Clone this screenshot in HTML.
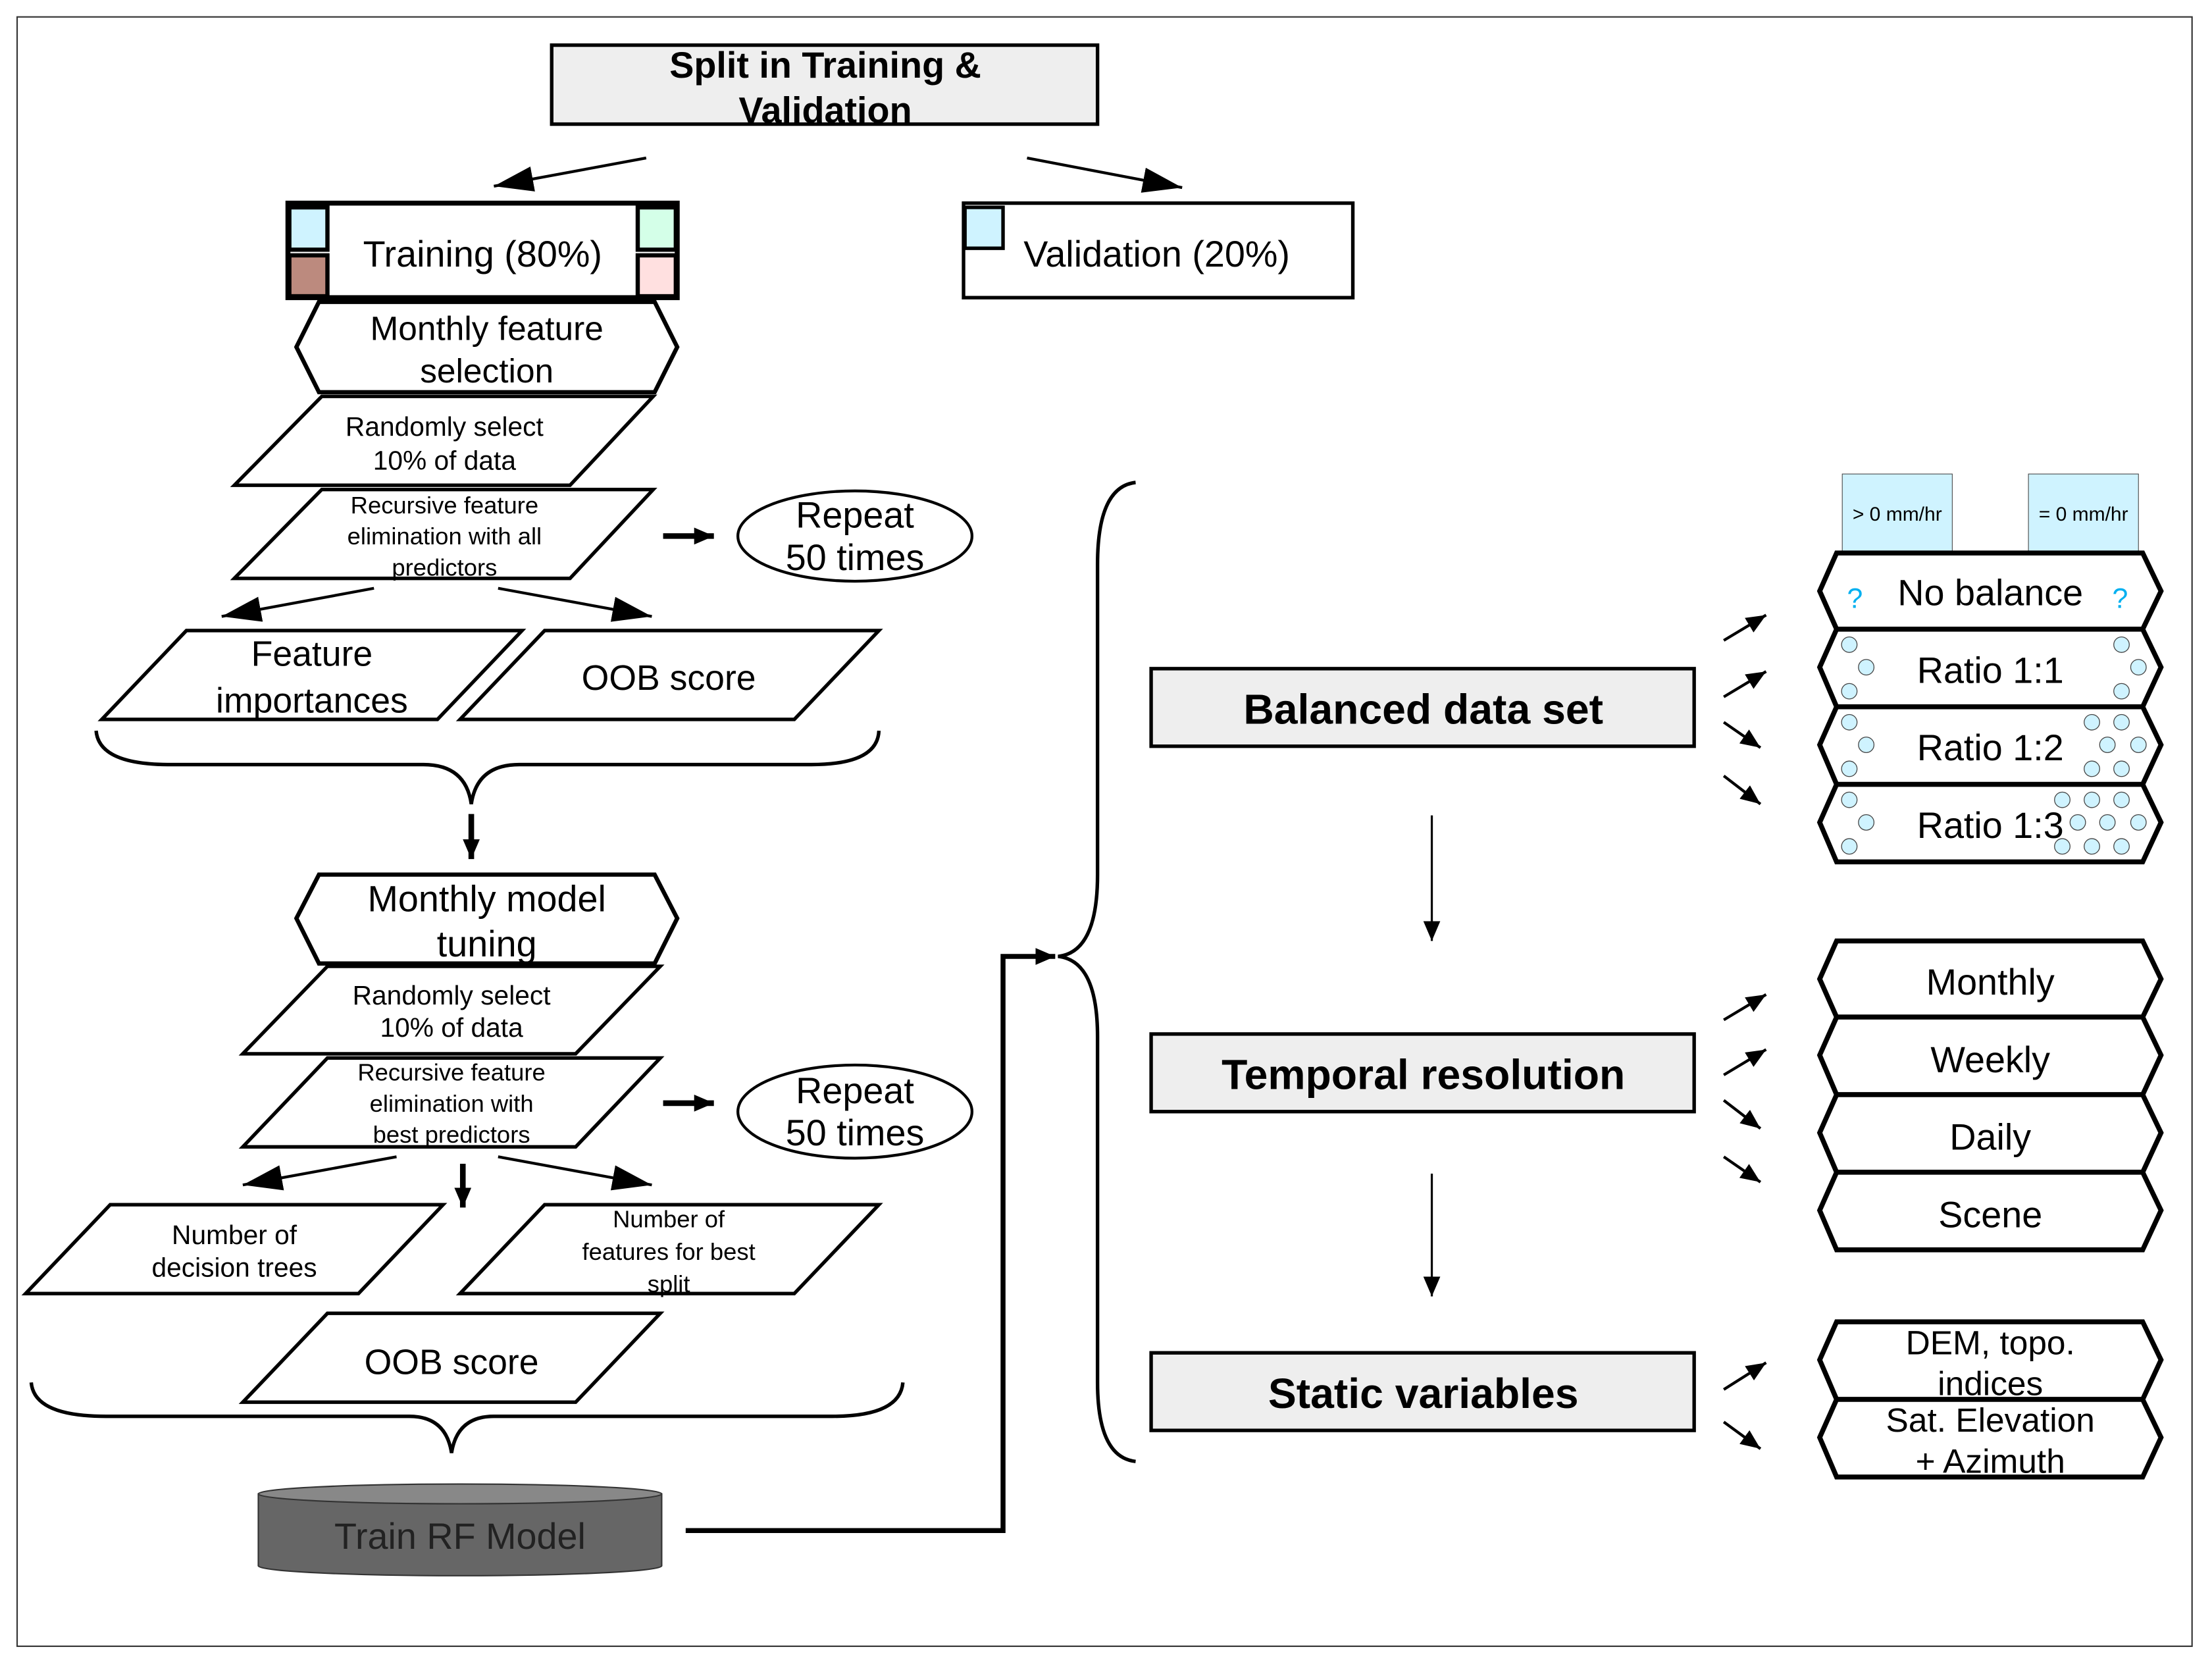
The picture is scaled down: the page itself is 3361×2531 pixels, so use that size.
<!DOCTYPE html>
<html><head><meta charset="utf-8"><style>html,body{margin:0;padding:0;background:#fff}svg{display:block}text{font-family:"Liberation Sans",sans-serif;fill:#000}</style></head>
<body>
<svg width="3361" height="2531" viewBox="0 0 1568 1181" xmlns="http://www.w3.org/2000/svg">
<defs>
<marker id="ah" markerUnits="userSpaceOnUse" markerWidth="30" markerHeight="24" refX="28" refY="9" orient="auto"><path d="M0,0 L28,9 L0,18 Z" fill="#000"/></marker>
<marker id="as" markerUnits="userSpaceOnUse" markerWidth="16" markerHeight="14" refX="14" refY="6" orient="auto"><path d="M0,0 L14,6 L0,12 Z" fill="#000"/></marker>
</defs>
<rect x="0" y="0" width="1568" height="1181" fill="#fff"/>
<rect x="12" y="12" width="1542" height="1155" fill="none" stroke="#333" stroke-width="1"/>

<!-- Split -->
<rect x="391" y="32" width="387" height="56" fill="#eee" stroke="#000" stroke-width="2.5"/>
<text x="585" y="55" font-size="26" font-weight="bold" text-anchor="middle">Split in Training &amp;</text>
<text x="585" y="87" font-size="26" font-weight="bold" text-anchor="middle">Validation</text>
<line x1="458" y1="112" x2="350" y2="132" stroke="#000" stroke-width="2" marker-end="url(#ah)"/>
<line x1="728" y1="112" x2="838" y2="133" stroke="#000" stroke-width="2" marker-end="url(#ah)"/>

<!-- Training -->
<rect x="204" y="144" width="276" height="67" fill="#fff" stroke="#000" stroke-width="3.5"/>
<rect x="205" y="147" width="27" height="30" fill="#cff3ff" stroke="#000" stroke-width="3"/>
<rect x="205" y="181" width="27" height="29" fill="#bc8a7e" stroke="#000" stroke-width="3"/>
<rect x="452" y="147" width="27" height="30" fill="#d4ffe8" stroke="#000" stroke-width="3"/>
<rect x="452" y="181" width="27" height="29" fill="#ffe0e0" stroke="#000" stroke-width="3"/>
<text x="342" y="189" font-size="26" text-anchor="middle">Training (80%)</text>

<rect x="683" y="144" width="276" height="67" fill="#fff" stroke="#000" stroke-width="2.5"/>
<rect x="684" y="147" width="27" height="29" fill="#cff3ff" stroke="#000" stroke-width="2.5"/>
<text x="820" y="189" font-size="26" text-anchor="middle">Validation (20%)</text>

<!-- Monthly feature selection -->
<polygon points="210,246 226,214 464,214 480,246 464,278 226,278" fill="#fff" stroke="#000" stroke-width="3"/>
<text x="345" y="241" font-size="24" text-anchor="middle">Monthly feature</text>
<text x="345" y="271" font-size="24" text-anchor="middle">selection</text>
<polygon points="166,344 228,281 463,281 404,344" fill="#fff" stroke="#000" stroke-width="2.5"/>
<text x="315" y="309" font-size="19" text-anchor="middle">Randomly select</text>
<text x="315" y="333" font-size="19" text-anchor="middle">10% of data</text>
<polygon points="166,410 228,347 463,347 404,410" fill="#fff" stroke="#000" stroke-width="2.5"/>
<text x="315" y="364" font-size="17" text-anchor="middle">Recursive feature</text>
<text x="315" y="386" font-size="17" text-anchor="middle">elimination with all</text>
<text x="315" y="408" font-size="17" text-anchor="middle">predictors</text>
<line x1="470" y1="380" x2="506" y2="380" stroke="#000" stroke-width="4" marker-end="url(#as)"/>
<ellipse cx="606" cy="380" rx="83" ry="32" fill="#fff" stroke="#000" stroke-width="2"/>
<text x="606" y="374" font-size="26" text-anchor="middle">Repeat</text>
<text x="606" y="404" font-size="26" text-anchor="middle">50 times</text>
<line x1="265" y1="417" x2="157" y2="437" stroke="#000" stroke-width="2" marker-end="url(#ah)"/>
<line x1="353" y1="417" x2="462" y2="437" stroke="#000" stroke-width="2" marker-end="url(#ah)"/>
<polygon points="72,510 132,447 370,447 310,510" fill="#fff" stroke="#000" stroke-width="2.5"/>
<text x="221" y="472" font-size="25" text-anchor="middle">Feature</text>
<text x="221" y="505" font-size="25" text-anchor="middle">importances</text>
<polygon points="326,510 386,447 623,447 563,510" fill="#fff" stroke="#000" stroke-width="2.5"/>
<text x="474" y="489" font-size="25" text-anchor="middle">OOB score</text>
<path d="M68,518 Q70,542 120,542 L300,542 Q330,542 334,570 Q338,542 368,542 L575,542 Q622,542 623,518" fill="none" stroke="#000" stroke-width="2.5"/>
<line x1="334" y1="577" x2="334" y2="609" stroke="#000" stroke-width="4" marker-end="url(#as)"/>

<!-- Monthly model tuning -->
<polygon points="210,651 226,620 464,620 480,651 464,683 226,683" fill="#fff" stroke="#000" stroke-width="3"/>
<text x="345" y="646" font-size="26" text-anchor="middle">Monthly model</text>
<text x="345" y="678" font-size="26" text-anchor="middle">tuning</text>
<polygon points="172,747 232,685 468,685 408,747" fill="#fff" stroke="#000" stroke-width="2.5"/>
<text x="320" y="712" font-size="19" text-anchor="middle">Randomly select</text>
<text x="320" y="735" font-size="19" text-anchor="middle">10% of data</text>
<polygon points="172,813 232,750 468,750 408,813" fill="#fff" stroke="#000" stroke-width="2.5"/>
<text x="320" y="766" font-size="17" text-anchor="middle">Recursive feature</text>
<text x="320" y="788" font-size="17" text-anchor="middle">elimination with</text>
<text x="320" y="810" font-size="17" text-anchor="middle">best predictors</text>
<line x1="470" y1="782" x2="506" y2="782" stroke="#000" stroke-width="4" marker-end="url(#as)"/>
<ellipse cx="606" cy="788" rx="83" ry="33" fill="#fff" stroke="#000" stroke-width="2"/>
<text x="606" y="782" font-size="26" text-anchor="middle">Repeat</text>
<text x="606" y="812" font-size="26" text-anchor="middle">50 times</text>
<line x1="281" y1="820" x2="172" y2="840" stroke="#000" stroke-width="2" marker-end="url(#ah)"/>
<line x1="328" y1="825" x2="328" y2="856" stroke="#000" stroke-width="4" marker-end="url(#as)"/>
<line x1="353" y1="820" x2="462" y2="840" stroke="#000" stroke-width="2" marker-end="url(#ah)"/>
<polygon points="18,917 78,854 314,854 254,917" fill="#fff" stroke="#000" stroke-width="2.5"/>
<text x="166" y="882" font-size="19" text-anchor="middle">Number of</text>
<text x="166" y="905" font-size="19" text-anchor="middle">decision trees</text>
<polygon points="326,917 386,854 623,854 563,917" fill="#fff" stroke="#000" stroke-width="2.5"/>
<text x="474" y="870" font-size="17" text-anchor="middle">Number of</text>
<text x="474" y="893" font-size="17" text-anchor="middle">features for best</text>
<text x="474" y="916" font-size="17" text-anchor="middle">split</text>
<polygon points="172,994 232,931 468,931 408,994" fill="#fff" stroke="#000" stroke-width="2.5"/>
<text x="320" y="974" font-size="25" text-anchor="middle">OOB score</text>
<path d="M22,980 Q24,1004 75,1004 L290,1004 Q316,1004 320,1030 Q324,1004 350,1004 L590,1004 Q638,1004 640,980" fill="none" stroke="#000" stroke-width="2.5"/>

<!-- Cylinder -->
<path d="M183,1059 L183,1110 A143,7 0 0 0 469,1110 L469,1059 Z" fill="#666" stroke="#333" stroke-width="1"/>
<ellipse cx="326" cy="1059" rx="143" ry="7" fill="#888" stroke="#333" stroke-width="1"/>
<text x="326" y="1098" font-size="26" text-anchor="middle" style="fill:#222">Train RF Model</text>

<polyline points="486,1085 711,1085 711,678 748,678" fill="none" stroke="#000" stroke-width="3.5" marker-end="url(#as)"/>
<path d="M805,342 Q778,345 778,400 L778,620 Q778,675 750,678 Q778,681 778,735 L778,980 Q778,1033 805,1036" fill="none" stroke="#000" stroke-width="2.5"/>

<!-- Center boxes -->
<rect x="816" y="474" width="385" height="55" fill="#eee" stroke="#000" stroke-width="2.5"/>
<text x="1009" y="513" font-size="30" font-weight="bold" text-anchor="middle">Balanced data set</text>
<line x1="1015" y1="578" x2="1015" y2="667" stroke="#000" stroke-width="1.5" marker-end="url(#as)"/>
<rect x="816" y="733" width="385" height="55" fill="#eee" stroke="#000" stroke-width="2.5"/>
<text x="1009" y="772" font-size="30" font-weight="bold" text-anchor="middle">Temporal resolution</text>
<line x1="1015" y1="832" x2="1015" y2="919" stroke="#000" stroke-width="1.5" marker-end="url(#as)"/>
<rect x="816" y="959" width="385" height="55" fill="#eee" stroke="#000" stroke-width="2.5"/>
<text x="1009" y="998" font-size="30" font-weight="bold" text-anchor="middle">Static variables</text>

<!-- small arrows -->
<g stroke="#000" stroke-width="2">
<line x1="1222" y1="454" x2="1252" y2="436" marker-end="url(#as)"/>
<line x1="1222" y1="494" x2="1252" y2="476" marker-end="url(#as)"/>
<line x1="1222" y1="512" x2="1248" y2="530" marker-end="url(#as)"/>
<line x1="1222" y1="550" x2="1248" y2="570" marker-end="url(#as)"/>
<line x1="1222" y1="723" x2="1252" y2="705" marker-end="url(#as)"/>
<line x1="1222" y1="762" x2="1252" y2="744" marker-end="url(#as)"/>
<line x1="1222" y1="780" x2="1248" y2="800" marker-end="url(#as)"/>
<line x1="1222" y1="820" x2="1248" y2="838" marker-end="url(#as)"/>
<line x1="1222" y1="985" x2="1252" y2="966" marker-end="url(#as)"/>
<line x1="1222" y1="1008" x2="1248" y2="1027" marker-end="url(#as)"/>
</g>

<!-- right labels -->
<rect x="1306" y="336" width="78" height="56" fill="#cff3ff" stroke="#444" stroke-width="0.5"/>
<rect x="1438" y="336" width="78" height="56" fill="#cff3ff" stroke="#444" stroke-width="0.5"/>
<text x="1345" y="369" font-size="14" text-anchor="middle">&gt; 0 mm/hr</text>
<text x="1477" y="369" font-size="14" text-anchor="middle">= 0 mm/hr</text>

<g fill="#fff" stroke="#000" stroke-width="3.5">
<polygon points="1290,419 1302,392 1519,392 1532,419 1519,446 1302,446"/>
<polygon points="1290,473 1302,446 1519,446 1532,473 1519,501 1302,501"/>
<polygon points="1290,528 1302,501 1519,501 1532,528 1519,556 1302,556"/>
<polygon points="1290,583 1302,556 1519,556 1532,583 1519,611 1302,611"/>
<polygon points="1290,694 1302,667 1519,667 1532,694 1519,721 1302,721"/>
<polygon points="1290,748 1302,721 1519,721 1532,748 1519,776 1302,776"/>
<polygon points="1290,803 1302,776 1519,776 1532,803 1519,831 1302,831"/>
<polygon points="1290,858 1302,831 1519,831 1532,858 1519,886 1302,886"/>
<polygon points="1290,964 1302,937 1519,937 1532,964 1519,992 1302,992"/>
<polygon points="1290,1019 1302,992 1519,992 1532,1019 1519,1047 1302,1047"/>
</g>
<text x="1315" y="431" font-size="20" text-anchor="middle" style="fill:#00b0f0">?</text>
<text x="1503" y="431" font-size="20" text-anchor="middle" style="fill:#00b0f0">?</text>
<g fill="#cff3ff" stroke="#444" stroke-width="0.6">
<circle cx="1311" cy="457" r="5.5"/><circle cx="1323" cy="473" r="5.5"/><circle cx="1311" cy="490" r="5.5"/>
<circle cx="1504" cy="457" r="5.5"/><circle cx="1516" cy="473" r="5.5"/><circle cx="1504" cy="490" r="5.5"/>
<circle cx="1311" cy="512" r="5.5"/><circle cx="1323" cy="528" r="5.5"/><circle cx="1311" cy="545" r="5.5"/>
<circle cx="1483" cy="512" r="5.5"/><circle cx="1504" cy="512" r="5.5"/><circle cx="1494" cy="528" r="5.5"/><circle cx="1516" cy="528" r="5.5"/><circle cx="1483" cy="545" r="5.5"/><circle cx="1504" cy="545" r="5.5"/>
<circle cx="1311" cy="567" r="5.5"/><circle cx="1323" cy="583" r="5.5"/><circle cx="1311" cy="600" r="5.5"/>
<circle cx="1462" cy="567" r="5.5"/><circle cx="1483" cy="567" r="5.5"/><circle cx="1504" cy="567" r="5.5"/>
<circle cx="1473" cy="583" r="5.5"/><circle cx="1494" cy="583" r="5.5"/><circle cx="1516" cy="583" r="5.5"/>
<circle cx="1462" cy="600" r="5.5"/><circle cx="1483" cy="600" r="5.5"/><circle cx="1504" cy="600" r="5.5"/>
</g>
<g font-size="26" text-anchor="middle">
<text x="1411" y="429">No balance</text>
<text x="1411" y="484">Ratio 1:1</text>
<text x="1411" y="539">Ratio 1:2</text>
<text x="1411" y="594">Ratio 1:3</text>
<text x="1411" y="705">Monthly</text>
<text x="1411" y="760">Weekly</text>
<text x="1411" y="815">Daily</text>
<text x="1411" y="870">Scene</text>
</g>
<g font-size="24" text-anchor="middle">
<text x="1411" y="960">DEM, topo.</text>
<text x="1411" y="989">indices</text>
<text x="1411" y="1015">Sat. Elevation</text>
<text x="1411" y="1044">+ Azimuth</text>
</g>
</svg>
</body></html>
